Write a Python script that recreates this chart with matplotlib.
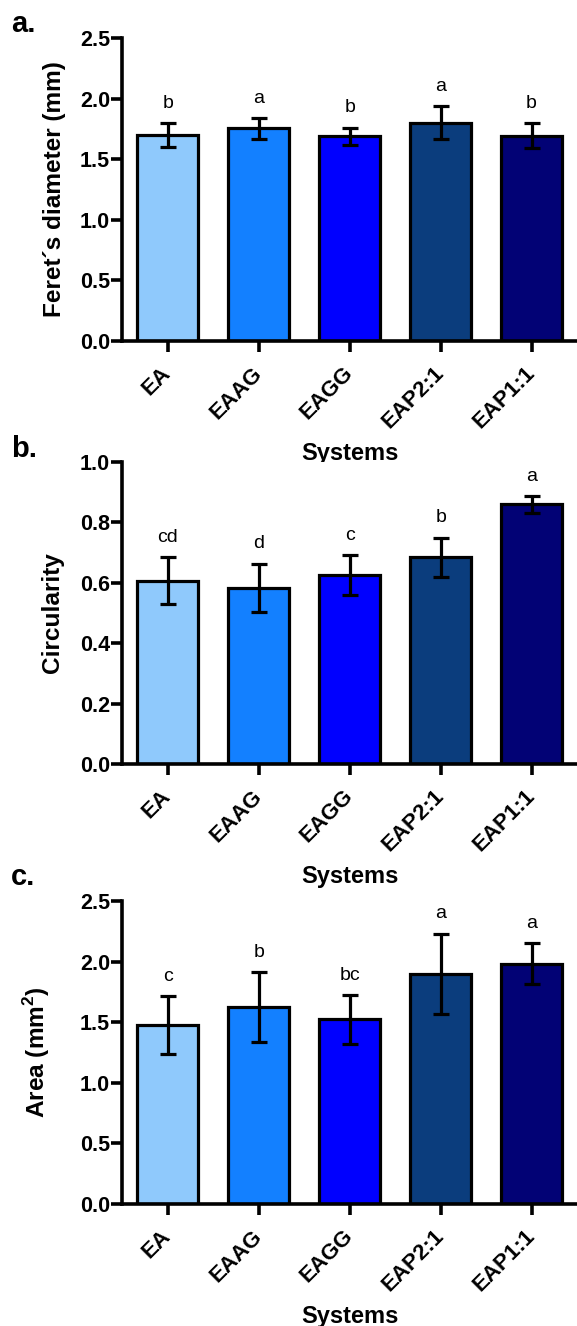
import numpy as np
import matplotlib
matplotlib.use("Agg")
import matplotlib.pyplot as plt

plt.rcParams['font.family'] = ['Liberation Sans', 'DejaVu Sans']
plt.rcParams['mathtext.fontset'] = 'custom'
plt.rcParams['mathtext.rm'] = 'Liberation Sans'
plt.rcParams['mathtext.bf'] = 'Liberation Sans:bold'

systems = ["EA", "EAAG", "EAGG", "EAP2:1", "EAP1:1"]
bar_colors = ["#8FC9FC", "#1380FF", "#0000FF", "#0B3D7D", "#020275"]

# feret diameter (mm)
feret = [1.70, 1.755, 1.69, 1.80, 1.695]
feret_err = [0.10, 0.085, 0.07, 0.136, 0.10]
feret_letters = ["b", "a", "b", "a", "b"]

# circularity
circ = [0.606, 0.583, 0.624, 0.684, 0.859]
circ_err = [0.078, 0.080, 0.066, 0.065, 0.027]
circ_letters = ["cd", "d", "c", "b", "a"]

# area (mm2)
area = [1.477, 1.623, 1.524, 1.90, 1.983]
area_err = [0.237, 0.29, 0.20, 0.33, 0.17]
area_letters = ["c", "b", "bc", "a", "a"]


def draw_panel(ax, vals, errs, letters, ylabel, ymax, ystep, ylab_x):
    x = np.arange(len(systems))
    ax.bar(x, vals, width=0.67, color=bar_colors, edgecolor="black",
           linewidth=2.3, zorder=2)
    ax.errorbar(x, vals, yerr=errs, fmt="none", ecolor="black",
                elinewidth=2.3, capsize=6, capthick=2.3, zorder=3)
    for xi, v, e, lt in zip(x, vals, errs, letters):
        ax.annotate(lt, (xi, v + e), xytext=(0, 11), textcoords="offset points",
                    ha="center", va="baseline", fontsize=14)

    ax.set_xlim(-0.5, 4.5)
    ax.set_ylim(0, ymax)
    ax.set_yticks(np.arange(0, ymax + ystep / 2, ystep))
    ax.yaxis.set_major_formatter(matplotlib.ticker.FormatStrFormatter("%.1f"))
    ax.set_xticks(x)
    ax.set_xticklabels(systems, rotation=45, ha="right", va="center",
                       rotation_mode="anchor", fontsize=16, fontweight="bold")
    for lab in ax.get_yticklabels():
        lab.set_fontweight("bold")
        lab.set_fontsize(15.5)

    for side in ["top", "right"]:
        ax.spines[side].set_visible(False)
    for side in ["left", "bottom"]:
        ax.spines[side].set_linewidth(2.6)
    ax.tick_params(axis="y", length=8, width=2.6, pad=1)
    ax.tick_params(axis="x", length=8, width=2.6, pad=13)

    ax.set_ylabel(ylabel, fontsize=17.6, fontweight="bold", va="center")
    ax.yaxis.set_label_coords(ylab_x, 0.5)
    ax.set_xlabel("Systems", fontsize=17, fontweight="bold")
    ax.xaxis.set_label_coords(0.5, -0.334)


fig = plt.figure(figsize=(5.77, 13.26), dpi=100)

ax_a = fig.add_axes([0.2123, 0.7428, 0.7877, 0.2285])
ax_b = fig.add_axes([0.2123, 0.4238, 0.7877, 0.2280])
ax_c = fig.add_axes([0.2123, 0.0920, 0.7877, 0.2285])

draw_panel(ax_a, feret, feret_err, feret_letters, "Feret´s diameter (mm)", 2.5, 0.5, -0.149)
draw_panel(ax_b, circ, circ_err, circ_letters, "Circularity", 1.0, 0.2, -0.155)
draw_panel(ax_c, area, area_err, area_letters, r"Area (mm$^\mathbf{2}$)", 2.5, 0.5, -0.19)

fig.text(0.019, 0.976, "a.", fontsize=21, fontweight="bold", va="baseline")
fig.text(0.019, 0.655, "b.", fontsize=21, fontweight="bold", va="baseline")
fig.text(0.019, 0.3326, "c.", fontsize=21, fontweight="bold", va="baseline")

fig.savefig("out.png", dpi=100)
